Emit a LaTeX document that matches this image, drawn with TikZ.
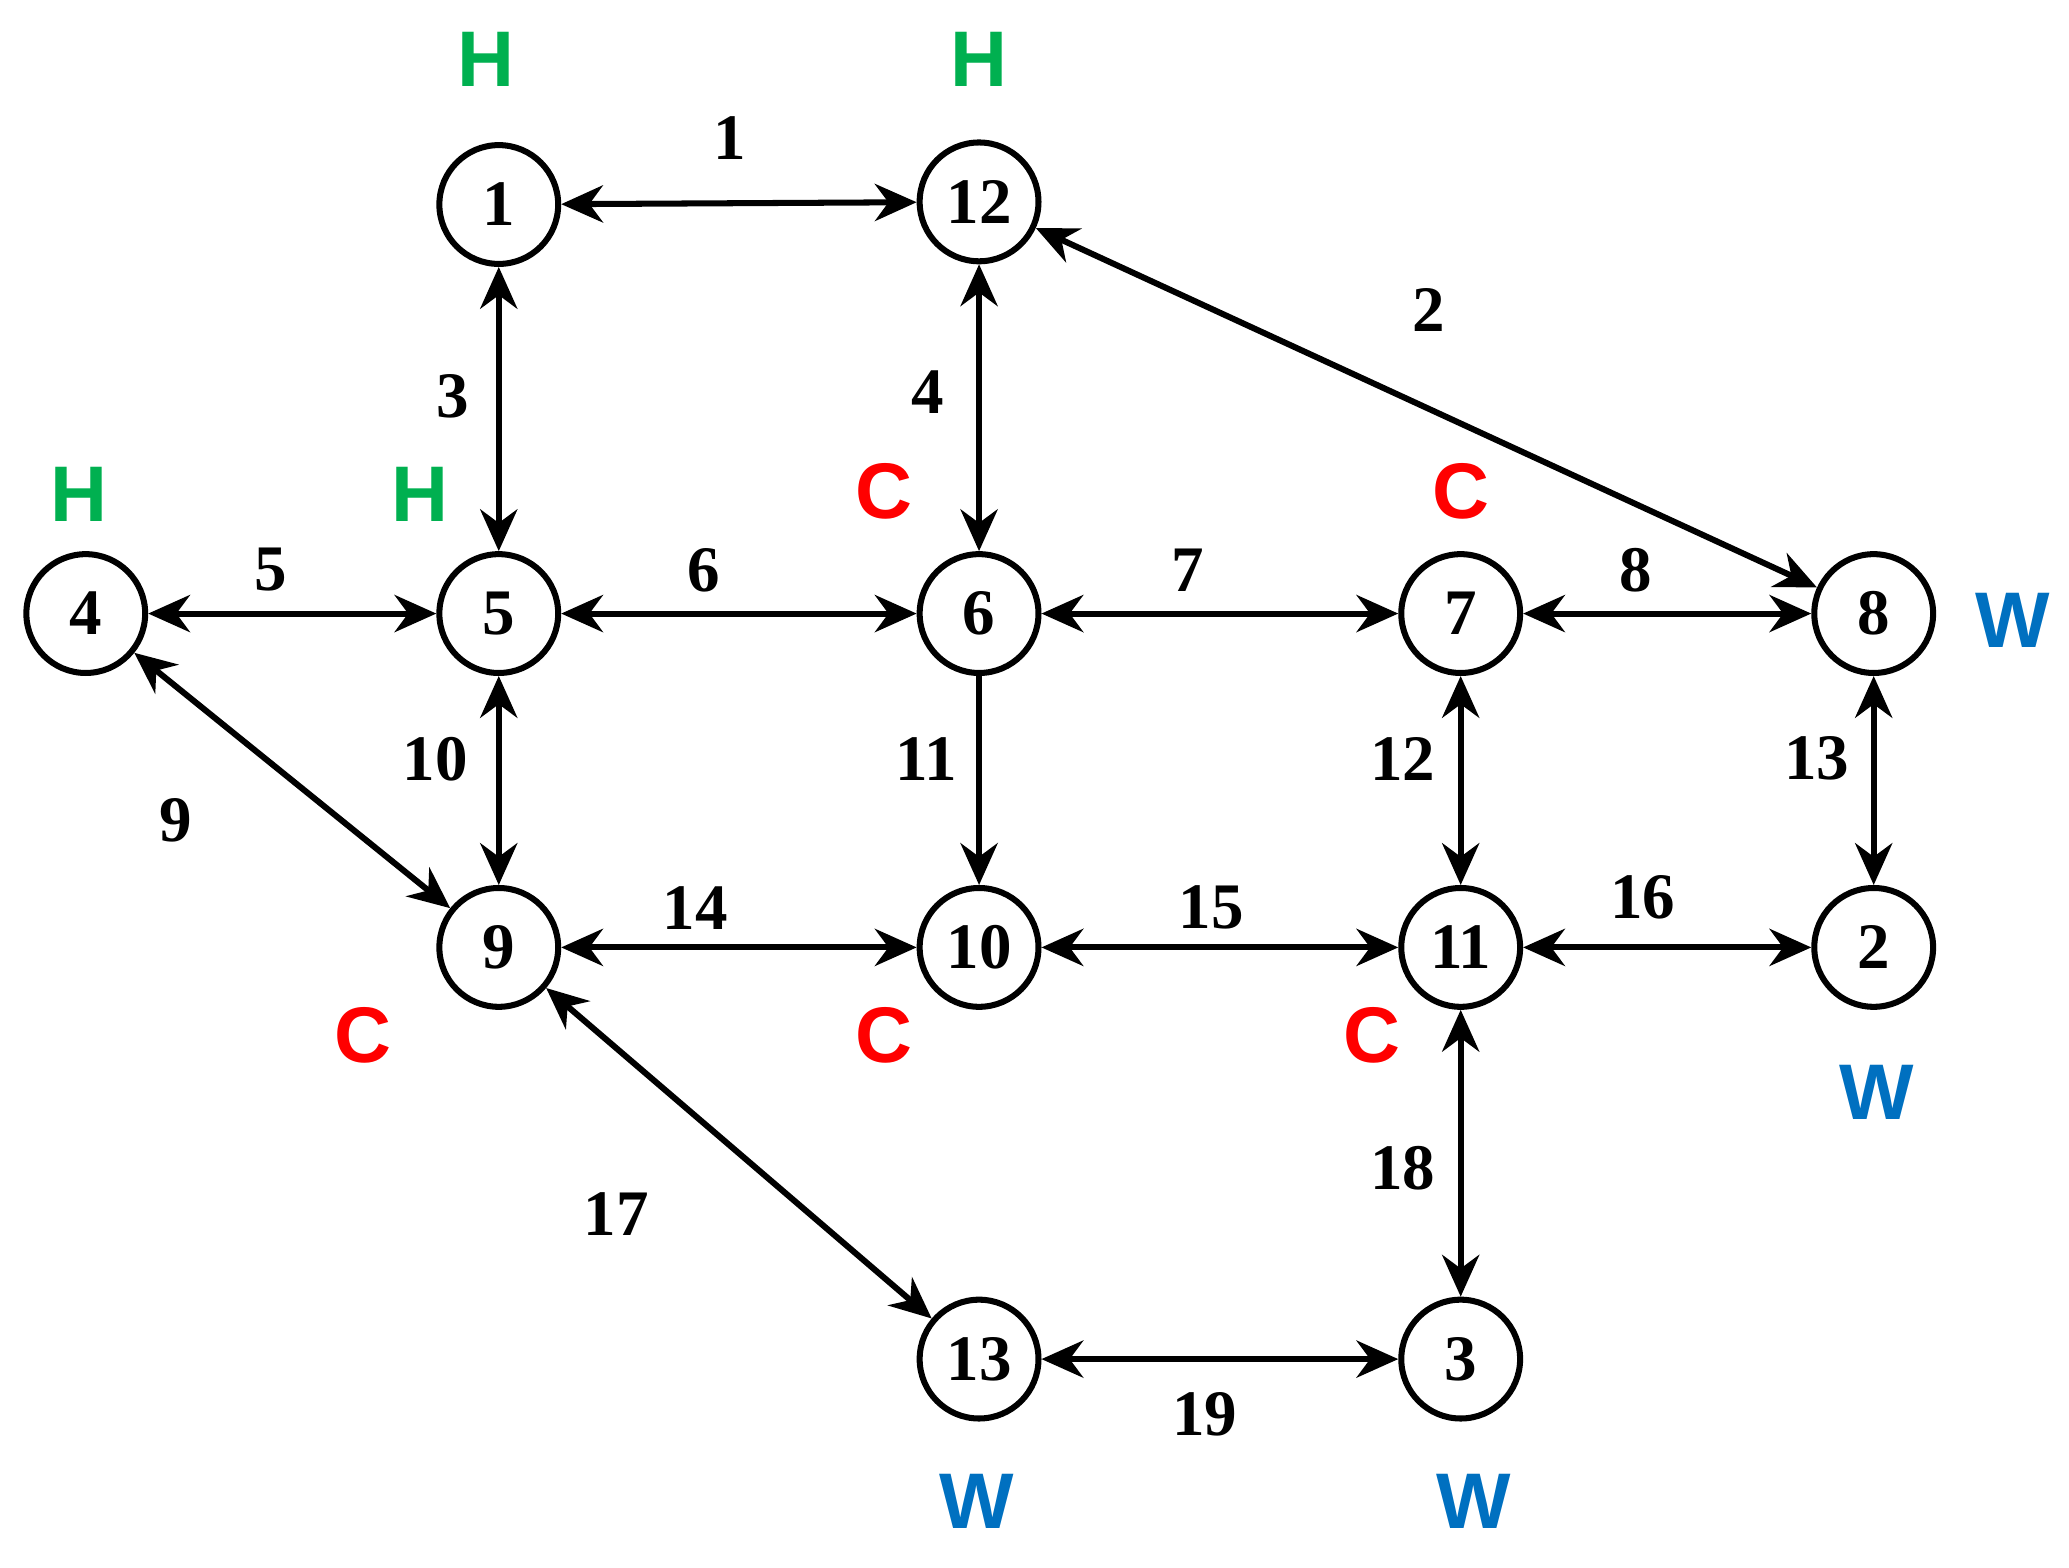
\documentclass[tikz,border=0pt]{standalone}
\usepackage{fontspec}
\setmainfont{Liberation Serif}
\newfontfamily\lettersf{Liberation Sans}
\usetikzlibrary{arrows.meta}
\definecolor{hgreen}{RGB}{0,176,80}
\definecolor{cred}{RGB}{255,0,0}
\definecolor{wblue}{RGB}{0,112,192}
\begin{document}
\begin{tikzpicture}[x=0.01cm,y=-0.01cm,
  vtx/.style={circle,draw,line width=1.3pt,minimum size=0.9cm,inner sep=0pt,font=\bfseries\fontsize{14}{14}\selectfont},
  edg/.style={line width=1.3pt,{Stealth[length=9pt,width=8pt]}-{Stealth[length=9pt,width=8pt]}},
  one/.style={line width=1.3pt,-{Stealth[length=9pt,width=8pt]}},
  el/.style={font=\bfseries\fontsize{14}{14}\selectfont},
  tg/.style={font=\lettersf\bfseries\fontsize{17}{17}\selectfont}]
\useasboundingbox (0,0) rectangle (1568,1188);
\node[vtx] (n1) at (378,155) {1};
\node[vtx] (n12) at (742,153) {12};
\node[vtx] (n4) at (65,465) {4};
\node[vtx] (n5) at (378,465) {5};
\node[vtx] (n6) at (742,465) {6};
\node[vtx] (n7) at (1107,465) {7};
\node[vtx] (n8) at (1420,465) {8};
\node[vtx] (n9) at (378,718) {9};
\node[vtx] (n10) at (742,718) {10};
\node[vtx] (n11) at (1107,718) {11};
\node[vtx] (n2) at (1420,718) {2};
\node[vtx] (n13) at (742,1030) {13};
\node[vtx] (n3) at (1107,1030) {3};
\draw[edg] (n1) -- (n12);
\draw[edg] (n12) -- (n8);
\draw[edg] (n1) -- (n5);
\draw[edg] (n12) -- (n6);
\draw[edg] (n4) -- (n5);
\draw[edg] (n5) -- (n6);
\draw[edg] (n6) -- (n7);
\draw[edg] (n7) -- (n8);
\draw[edg] (n4) -- (n9);
\draw[edg] (n5) -- (n9);
\draw[one] (n6) -- (n10);
\draw[edg] (n7) -- (n11);
\draw[edg] (n8) -- (n2);
\draw[edg] (n9) -- (n10);
\draw[edg] (n10) -- (n11);
\draw[edg] (n11) -- (n2);
\draw[edg] (n9) -- (n13);
\draw[edg] (n11) -- (n3);
\draw[edg] (n13) -- (n3);
\node[el] (l1) at (553,105) {1};
\node[el] (l2) at (1083,235) {2};
\node[el] (l3) at (343,300) {3};
\node[el] (l4) at (703,297) {4};
\node[el] (l5) at (205,432) {5};
\node[el] (l6) at (533,432) {6};
\node[el] (l7) at (900,432) {7};
\node[el] (l8) at (1240,432) {8};
\node[el] (l9) at (133,622) {9};
\node[el] (l10) at (330,575) {10};
\node[el] (l11) at (702,575) {11};
\node[el] (l12) at (1063,575) {12};
\node[el] (l13) at (1377,575) {13};
\node[el] (l14) at (527,688) {14};
\node[el] (l15) at (918,688) {15};
\node[el] (l16) at (1245,680) {16};
\node[el] (l17) at (467,920) {17};
\node[el] (l18) at (1063,885) {18};
\node[el] (l19) at (913,1072) {19};
\node[tg,hgreen] (h1) at (368,45) {H};
\node[tg,hgreen] (h2) at (742,45) {H};
\node[tg,hgreen] (h3) at (60,375) {H};
\node[tg,hgreen] (h4) at (318,375) {H};
\node[tg,cred] (c1) at (670,372) {C};
\node[tg,cred] (c2) at (1107,372) {C};
\node[tg,cred] (c3) at (275,785) {C};
\node[tg,cred] (c4) at (670,785) {C};
\node[tg,cred] (c5) at (1040,785) {C};
\node[tg,wblue] (w1) at (1525,470) {W};
\node[tg,wblue] (w2) at (1422,828) {W};
\node[tg,wblue] (w3) at (740,1138) {W};
\node[tg,wblue] (w4) at (1117,1138) {W};
\end{tikzpicture}
\end{document}
